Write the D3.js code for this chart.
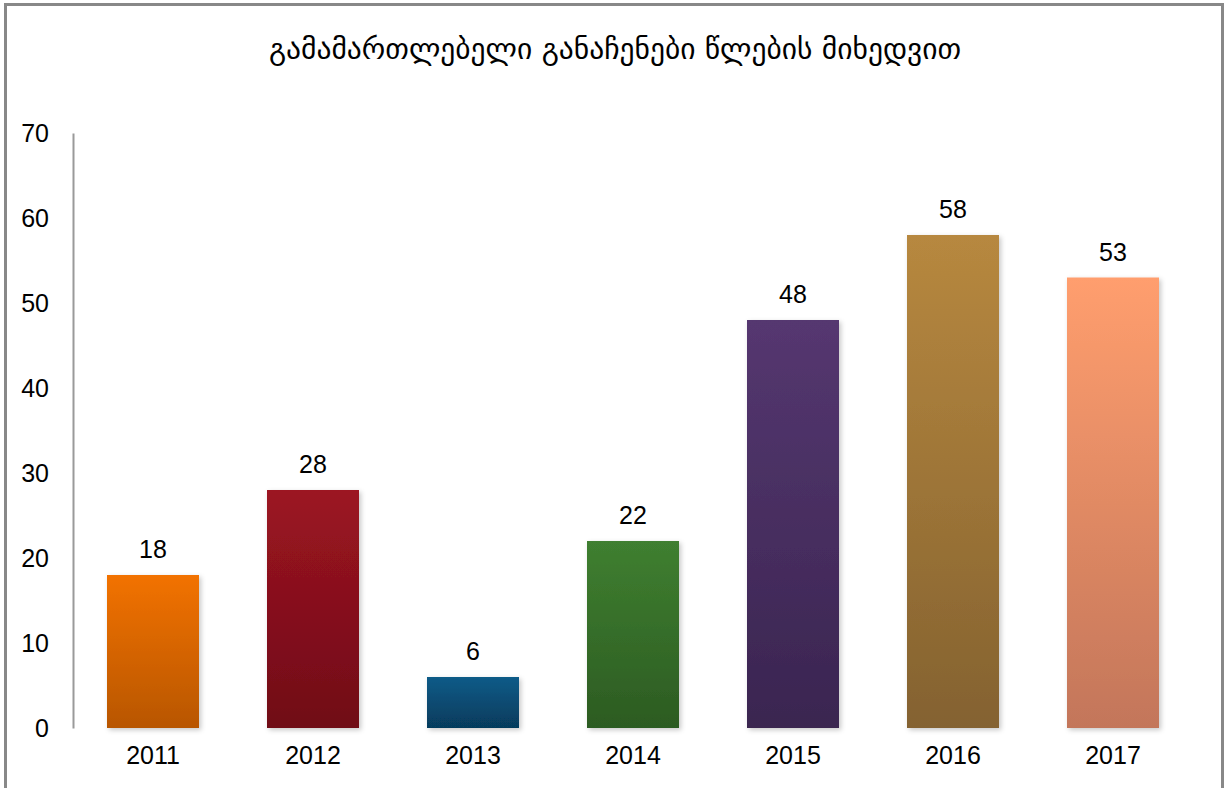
<!DOCTYPE html>
<html>
<head>
<meta charset="utf-8">
<script src="https://cdn.jsdelivr.net/npm/d3@7"></script>
<style>
html,body{margin:0;padding:0;background:#fff;}
svg{display:block;}
</style>
</head>
<body>
<svg id="chart" width="1225" height="788"></svg>
<script>
const title = "გამამართლებელი განაჩენები წლების მიხედვით";
const categories = ["2011","2012","2013","2014","2015","2016","2017"];
const values = [18, 28, 6, 22, 48, 58, 53];
const topColors = ["#f27200","#9c1422","#0b5b88","#3f7f30","#553770","#b7883f","#ff9e6e"];
const bottomColors = ["#b85600","#700c17","#063b5c","#2c5b22","#3a2550","#846230","#c3765a"];
const yTicks = [0,10,20,30,40,50,60,70];

const svg = d3.select("#chart");
const m = {left:73, top:133};
const plotRight = 1193, plotBottom = 728;

const defs = svg.append("defs");
categories.forEach((c,i)=>{
  const g = defs.append("linearGradient").attr("id","g"+i)
    .attr("x1",0).attr("y1",0).attr("x2",0).attr("y2",1);
  g.append("stop").attr("offset","0%").attr("stop-color",topColors[i]);
  g.append("stop").attr("offset","100%").attr("stop-color",bottomColors[i]);
});
const f = defs.append("filter").attr("id","sh").attr("x","-20%").attr("y","-20%").attr("width","140%").attr("height","140%");
f.append("feDropShadow").attr("dx",2).attr("dy",2).attr("stdDeviation",2.5).attr("flood-color","#000").attr("flood-opacity",0.22);

// frame
svg.append("rect").attr("x",5.5).attr("y",4.5).attr("width",1217).attr("height",800)
  .attr("fill","none").attr("stroke","#888").attr("stroke-width",3);

svg.append("text").attr("x",615).attr("y",59).attr("text-anchor","middle")
  .attr("font-family","DejaVu Sans, sans-serif").attr("font-size",29.5).attr("fill","#000")
  .text(title);

const x = d3.scaleBand().domain(categories).range([m.left, plotRight]).paddingInner(0.425).paddingOuter(0.2125);
const y = d3.scaleLinear().domain([0,70]).range([plotBottom, m.top]);

// y axis
const yAxis = svg.append("g").attr("transform",`translate(${m.left},0)`)
  .call(d3.axisLeft(y).tickValues(yTicks).tickSize(0).tickPadding(24));
yAxis.select(".domain").attr("stroke","#9a9a9a").attr("stroke-width",2);
yAxis.selectAll("text").attr("font-family","Liberation Sans, Arial, sans-serif").attr("font-size",25).attr("fill","#000");

// bars
svg.append("g").selectAll("rect").data(values).join("rect")
  .attr("x",(d,i)=>x(categories[i]))
  .attr("y",d=>y(d))
  .attr("width",x.bandwidth())
  .attr("height",d=>plotBottom - y(d))
  .attr("fill",(d,i)=>`url(#g${i})`)
  .attr("filter","url(#sh)");

// x axis
const xAxis = svg.append("g").attr("transform",`translate(0,${plotBottom})`)
  .call(d3.axisBottom(x).tickSize(0).tickPadding(18));
xAxis.select(".domain").attr("stroke","#9a9a9a").attr("stroke-width",2).attr("filter","url(#sh)");
xAxis.selectAll("text").attr("font-family","Liberation Sans, Arial, sans-serif").attr("font-size",25).attr("fill","#000");

// value labels
svg.append("g").selectAll("text").data(values).join("text")
  .attr("x",(d,i)=>x(categories[i]) + x.bandwidth()/2)
  .attr("y",d=>y(d) - 17)
  .attr("text-anchor","middle")
  .attr("font-family","Liberation Sans, Arial, sans-serif").attr("font-size",25).attr("fill","#000")
  .text(d=>d);
</script>
</body>
</html>
